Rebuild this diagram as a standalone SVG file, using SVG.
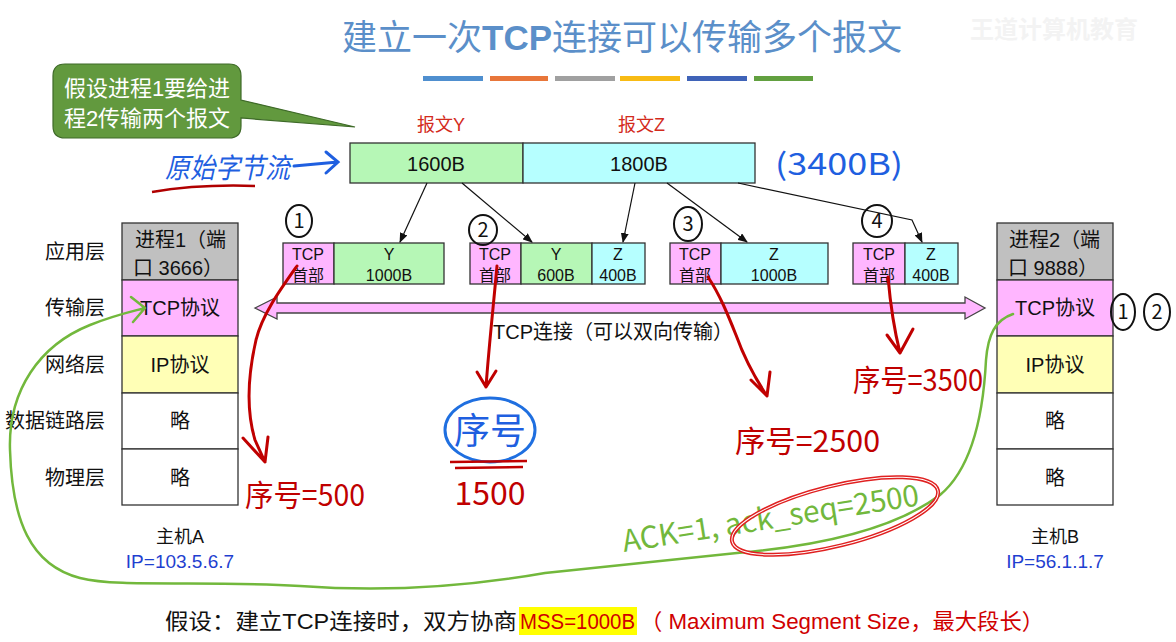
<svg xmlns="http://www.w3.org/2000/svg" width="1176" height="642" viewBox="0 0 1176 642">
<style>
.t{font-family:"Liberation Sans","Noto Sans CJK SC",sans-serif;fill:#111}
.c{text-anchor:middle}
.box{stroke:#333;stroke-width:1.3}
.seg{stroke:#333;stroke-width:1.3}
.hw{font-family:"Noto Sans CJK SC","Liberation Sans",sans-serif}
.red{stroke:#c00000;fill:none;stroke-width:3;stroke-linecap:round;stroke-linejoin:round}
.conn{stroke:#111;stroke-width:1.2;fill:none}
</style>
<defs>
<marker id="ah" markerWidth="10" markerHeight="8" refX="9" refY="4" orient="auto" markerUnits="userSpaceOnUse">
<path d="M0,0 L10,4 L0,8 Z" fill="#111"/>
</marker>
</defs>
<rect width="1176" height="642" fill="#fff"/>

<!-- title -->
<text class="t c" x="622" y="50" font-size="35" style="fill:#5b8fc9">建立一次<tspan font-weight="bold">TCP</tspan>连接可以传输多个报文</text>
<text class="t" x="970" y="38" font-size="24" font-weight="bold" style="fill:#f3f3f3">王道计算机教育</text>
<g id="bars">
<rect x="423" y="76" width="60" height="5" fill="#4f8fcf"/>
<rect x="490" y="76" width="58" height="5" fill="#e8763a"/>
<rect x="555" y="76" width="60" height="5" fill="#a0a0a0"/>
<rect x="620" y="76" width="60" height="5" fill="#f8bb14"/>
<rect x="687" y="76" width="60" height="5" fill="#3f63b8"/>
<rect x="754" y="76" width="59" height="5" fill="#62a040"/>
</g>

<!-- callout -->
<g id="callout">
<path d="M65,64 H229 Q241,64 241,76 V100 L355,127 L241,118 V126 Q241,138 229,138 H65 Q53,138 53,126 V76 Q53,64 65,64 Z" fill="#62993e" stroke="#3e6a28" stroke-width="1.2"/>
<text class="t c" x="147" y="96" font-size="22" style="fill:#fff">假设进程1要给进</text>
<text class="t c" x="147" y="126" font-size="22" style="fill:#fff">程2传输两个报文</text>
</g>

<!-- byte stream -->
<g id="stream">
<text class="t" x="417" y="131" font-size="18" style="fill:#d32b1c">报文Y</text>
<text class="t" x="618" y="131" font-size="18" style="fill:#d32b1c">报文Z</text>
<rect class="box" x="350" y="143" width="173" height="40" fill="#b6f7b6"/>
<rect class="box" x="523" y="143" width="232" height="40" fill="#b6ffff"/>
<text class="t c" x="436" y="171" font-size="20">1600B</text>
<text class="t c" x="639" y="171" font-size="20">1800B</text>
</g>

<!-- host A -->
<g id="hostA">
<rect class="box" x="122" y="223" width="116" height="57" fill="#c0c0c0"/>
<rect class="box" x="122" y="280" width="116" height="56" fill="#ffb6ff"/>
<rect class="box" x="122" y="336" width="116" height="57" fill="#ffffb6"/>
<rect class="box" x="122" y="393" width="116" height="56" fill="#fff"/>
<rect class="box" x="122" y="449" width="116" height="56" fill="#fff"/>
<text class="t" x="135" y="247" font-size="20">进程1（端</text>
<text class="t" x="133" y="275" font-size="20">口 3666）</text>
<text class="t c" x="180" y="315" font-size="20">TCP协议</text>
<text class="t c" x="180" y="372" font-size="20">IP协议</text>
<text class="t c" x="180" y="428" font-size="20">略</text>
<text class="t c" x="180" y="485" font-size="20">略</text>
<text class="t c" x="180" y="543" font-size="18">主机A</text>
<text class="t c" x="180" y="568" font-size="19" style="fill:#1f3fd0">IP=103.5.6.7</text>
</g>
<g id="layers">
<text class="t" x="105" y="259" font-size="20" text-anchor="end">应用层</text>
<text class="t" x="105" y="315" font-size="20" text-anchor="end">传输层</text>
<text class="t" x="105" y="372" font-size="20" text-anchor="end">网络层</text>
<text class="t" x="105" y="428" font-size="20" text-anchor="end">数据链路层</text>
<text class="t" x="105" y="485" font-size="20" text-anchor="end">物理层</text>
</g>

<!-- host B -->
<g id="hostB">
<rect class="box" x="997" y="223" width="116" height="57" fill="#c0c0c0"/>
<rect class="box" x="997" y="280" width="116" height="56" fill="#ffb6ff"/>
<rect class="box" x="997" y="336" width="116" height="57" fill="#ffffb6"/>
<rect class="box" x="997" y="393" width="116" height="56" fill="#fff"/>
<rect class="box" x="997" y="449" width="116" height="56" fill="#fff"/>
<text class="t" x="1009" y="247" font-size="20">进程2（端</text>
<text class="t" x="1008" y="275" font-size="20">口 9888）</text>
<text class="t c" x="1055" y="315" font-size="20">TCP协议</text>
<text class="t c" x="1055" y="372" font-size="20">IP协议</text>
<text class="t c" x="1055" y="428" font-size="20">略</text>
<text class="t c" x="1055" y="485" font-size="20">略</text>
<text class="t c" x="1055" y="543" font-size="18">主机B</text>
<text class="t c" x="1055" y="568" font-size="19" style="fill:#1f3fd0">IP=56.1.1.7</text>
</g>

<!-- segments -->
<g id="seg1">
<rect class="seg" x="283" y="243" width="51" height="41" fill="#ffb6ff"/>
<rect class="seg" x="334" y="243" width="110" height="41" fill="#b6f7b6"/>
<text class="t c" x="308" y="260" font-size="16">TCP</text><text class="t c" x="308" y="281" font-size="16">首部</text>
<text class="t c" x="389" y="260" font-size="16">Y</text><text class="t c" x="389" y="281" font-size="16">1000B</text>
</g>
<g id="seg2">
<rect class="seg" x="470" y="243" width="51" height="41" fill="#ffb6ff"/>
<rect class="seg" x="521" y="243" width="71" height="41" fill="#b6f7b6"/>
<rect class="seg" x="592" y="243" width="53" height="41" fill="#b6ffff"/>
<text class="t c" x="495" y="260" font-size="16">TCP</text><text class="t c" x="495" y="281" font-size="16">首部</text>
<text class="t c" x="556" y="260" font-size="16">Y</text><text class="t c" x="556" y="281" font-size="16">600B</text>
<text class="t c" x="618" y="260" font-size="16">Z</text><text class="t c" x="618" y="281" font-size="16">400B</text>
</g>
<g id="seg3">
<rect class="seg" x="670" y="243" width="51" height="41" fill="#ffb6ff"/>
<rect class="seg" x="721" y="243" width="107" height="41" fill="#b6ffff"/>
<text class="t c" x="695" y="260" font-size="16">TCP</text><text class="t c" x="695" y="281" font-size="16">首部</text>
<text class="t c" x="774" y="260" font-size="16">Z</text><text class="t c" x="774" y="281" font-size="16">1000B</text>
</g>
<g id="seg4">
<rect class="seg" x="853" y="243" width="52" height="41" fill="#ffb6ff"/>
<rect class="seg" x="905" y="243" width="53" height="41" fill="#b6ffff"/>
<text class="t c" x="879" y="260" font-size="16">TCP</text><text class="t c" x="879" y="281" font-size="16">首部</text>
<text class="t c" x="931" y="260" font-size="16">Z</text><text class="t c" x="931" y="281" font-size="16">400B</text>
</g>

<!-- connectors -->
<g id="connectors">
<path class="conn" d="M427,183 L400,242" marker-end="url(#ah)"/>
<path class="conn" d="M462,183 L532,242" marker-end="url(#ah)"/>
<path class="conn" d="M635,183 L623,242" marker-end="url(#ah)"/>
<path class="conn" d="M667,183 L747,242" marker-end="url(#ah)"/>
<path class="conn" d="M738,183 L912,220 L922,242" marker-end="url(#ah)"/>
<path d="M255,308 L277,297 L277,303 L965,303 L965,297 L985,308 L965,319 L965,313 L277,313 L277,319 Z" fill="#ffb6ff" stroke="#444" stroke-width="1.3"/>
<text class="t c" x="613" y="339" font-size="20">TCP连接（可以双向传输）</text>
</g>

<!-- handwritten annotations -->
<g id="annotations">
<text class="hw" x="165" y="178" font-size="28" fill="#1f5fe0" font-style="italic" textLength="125" lengthAdjust="spacingAndGlyphs">原始字节流</text>
<path d="M294,166 L338,162 M326,152 L338,162 L326,173" stroke="#1f5fe0" stroke-width="3" fill="none" stroke-linecap="round"/>
<path d="M152,192 Q200,184 255,186" stroke="#b00000" stroke-width="2.5" fill="none"/>
<text class="hw" x="775" y="175" font-size="30" fill="#1f5fe0" textLength="128" lengthAdjust="spacingAndGlyphs">(3400B)</text>

<g fill="none" stroke="#111" stroke-width="2">
<ellipse cx="299" cy="221" rx="13" ry="16"/>
<ellipse cx="483" cy="230" rx="14" ry="15"/>
<ellipse cx="688" cy="224" rx="14" ry="17"/>
<ellipse cx="877" cy="221" rx="15" ry="16"/>
<ellipse cx="1123" cy="312" rx="12" ry="18"/>
<ellipse cx="1157" cy="312" rx="13" ry="18"/>
</g>
<g class="hw" font-size="20" text-anchor="middle" fill="#111">
<text x="299" y="228">1</text>
<text x="483" y="237">2</text>
<text x="688" y="231">3</text>
<text x="877" y="228">4</text>
<text x="1123" y="319">1</text>
<text x="1157" y="319">2</text>
</g>

<path class="red" d="M297,266 C280,290 262,315 256,340 C248,375 246,410 255,440 L265,462 M243,438 L265,462 L268,437"/>
<text class="hw" x="245" y="506" font-size="30" fill="#c00000" textLength="120" lengthAdjust="spacingAndGlyphs">序号=500</text>

<path class="red" d="M497,266 C494,300 489,345 486,387 M477,372 L486,387 L496,371"/>
<ellipse cx="490" cy="430" rx="45" ry="32" fill="none" stroke="#1f6fe0" stroke-width="3"/>
<text class="hw" x="490" y="444" font-size="36" text-anchor="middle" fill="#1f5fe0">序号</text>
<path d="M450,462 L527,461 M455,468 L523,467" stroke="#c00000" stroke-width="2.5" fill="none"/>
<text class="hw" x="490" y="505" font-size="32" text-anchor="middle" fill="#c00000">1500</text>

<path class="red" d="M708,277 C720,295 728,315 736,335 C745,360 755,378 767,396 M751,380 L767,396 L770,372"/>
<text class="hw" x="735" y="452" font-size="30" fill="#c00000" textLength="145" lengthAdjust="spacingAndGlyphs">序号=2500</text>

<path class="red" d="M888,277 C890,300 893,325 900,353 M887,335 L900,353 L913,329"/>
<text class="hw" x="853" y="391" font-size="30" fill="#c00000" textLength="130" lengthAdjust="spacingAndGlyphs">序号=3500</text>

<path d="M1013,314 C995,320 988,335 986,360 C983,420 970,470 940,495 C900,525 830,545 737,553 C650,562 570,570 545,573 C460,588 380,592 300,586 C200,580 120,588 80,578 C30,565 12,520 10,450 C8,390 40,345 90,325 C115,315 130,312 145,308 M131,297 L145,308 L133,322" stroke="#72b83c" stroke-width="2.5" fill="none" stroke-linecap="round" stroke-linejoin="round"/>
<text class="hw" x="0" y="0" font-size="30" fill="#72b83c" textLength="300" lengthAdjust="spacingAndGlyphs" transform="translate(624,552) rotate(-9)">ACK=1, ack_seq=2500</text>
<ellipse cx="835" cy="516" rx="106" ry="30" transform="rotate(-14 835 516)" fill="none" stroke="#e02020" stroke-width="4"/>
<ellipse cx="835" cy="516" rx="106" ry="30" transform="rotate(-14 835 516)" fill="none" stroke="#fff" stroke-width="1"/>
</g>

<!-- bottom note -->
<g id="note">
<rect x="519" y="607" width="118" height="28" fill="#ffff00"/>
<text class="t" x="165" y="629" font-size="22" textLength="352" lengthAdjust="spacingAndGlyphs">假设：建立TCP连接时，双方协商</text>
<text class="t" x="520" y="629" font-size="22" style="fill:#d00000" textLength="115" lengthAdjust="spacingAndGlyphs">MSS=1000B</text>
<text class="t" x="640" y="629" font-size="22" style="fill:#d00000" textLength="404" lengthAdjust="spacingAndGlyphs">（ Maximum Segment Size，最大段长）</text>
</g>
</svg>
